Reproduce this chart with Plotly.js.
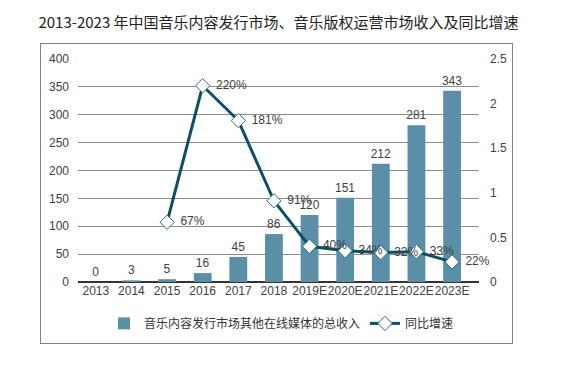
<!DOCTYPE html>
<html>
<head>
<meta charset="utf-8">
<script src="https://cdn.plot.ly/plotly-3.0.1.min.js"></script>
<style>
html,body{margin:0;padding:0;background:#fff;}
#frame{position:absolute;left:40px;top:43px;width:471px;height:299px;border:1.5px solid #808080;}
#chart{position:absolute;left:0;top:0;width:563px;height:373px;}
</style>
</head>
<body>
<div id="frame"></div>
<div id="chart"></div>
<script>
const years = ["2013","2014","2015","2016","2017","2018","2019E","2020E","2021E","2022E","2023E"];
const revenue = [0,3,5,16,45,86,120,151,212,281,343];
const growthYears = ["2015","2016","2017","2018","2019E","2020E","2021E","2022E","2023E"];
const growth = [0.67,2.20,1.81,0.91,0.40,0.34,0.32,0.33,0.22];
const growthMarkY = [0.67,2.20,1.81,0.91,0.40,0.35,0.33,0.34,0.225];
const growthLabels = ["67%","220%","181%","91%","40%","34%","32%","33%","22%"];
const barName = "音乐内容发行市场其他在线媒体的总收入";
const lineName = "同比增速";
const titleText = "2013-2023 年中国音乐内容发行市场、音乐版权运营市场收入及同比增速";

const font = {family:"Liberation Sans, Arial, sans-serif", size:12, color:"#404040"};
const cjk = "Noto Sans CJK SC, sans-serif";

const traces = [
  {
    type:"bar", x:years, y:revenue, name:barName,
    marker:{color:"#5b8fa8"},
    text:revenue.map(String), textposition:"outside", cliponaxis:false, constraintext:"none",
    textfont:{family:font.family,size:12,color:"#404040"},
    hoverinfo:"skip"
  },
  {
    type:"scatter", mode:"lines+markers", x:growthYears, y:growthMarkY, yaxis:"y2", name:lineName,
    line:{color:"#0b4f66", width:3},
    marker:{symbol:"diamond", size:11, color:"#ffffff", line:{color:"#2f6f84", width:1}},
    cliponaxis:false
  },
  {
    type:"scatter", mode:"text", x:growthYears, y:growthMarkY, yaxis:"y2",
    text:growthLabels.map(s=>"    "+s), textposition:"middle right",
    textfont:{family:font.family,size:12,color:"#404040"},
    showlegend:false, cliponaxis:false, hoverinfo:"skip"
  }
];

const layout = {
  width:563, height:373,
  margin:{l:78, r:84, t:59, b:91},
  paper_bgcolor:"rgba(0,0,0,0)", plot_bgcolor:"rgba(0,0,0,0)",
  font:font,
  title:{text:titleText, x:0.5, xanchor:"center", xref:"paper", y:0.94, yref:"container", yanchor:"middle",
         font:{family:cjk, size:15, color:"#222"}},
  bargap:0.5,
  xaxis:{type:"category", tickfont:font, tickangle:0, showgrid:false, ticks:"", showline:false, zeroline:false},
  yaxis:{range:[0,400], dtick:50, tickfont:font, gridcolor:"#8c8c8c", gridwidth:1,
         zeroline:true, zerolinecolor:"#333", zerolinewidth:1.5, ticks:"", ticklabelstandoff:8, showline:false},
  yaxis2:{overlaying:"y", side:"right", range:[0,2.5], dtick:0.5, tickfont:font, showgrid:false,
          zeroline:false, ticks:"", ticklabelstandoff:10, showline:false},
  legend:{orientation:"h", x:0.5, xanchor:"center", xref:"container", y:0.133, yref:"container", yanchor:"middle",
          font:{family:cjk, size:12, color:"#333"}, itemwidth:30, tracegroupgap:0, bgcolor:"rgba(0,0,0,0)"},
  showlegend:true
};

Plotly.newPlot("chart", traces, layout, {displayModeBar:false, staticPlot:true});
</script>
</body>
</html>
